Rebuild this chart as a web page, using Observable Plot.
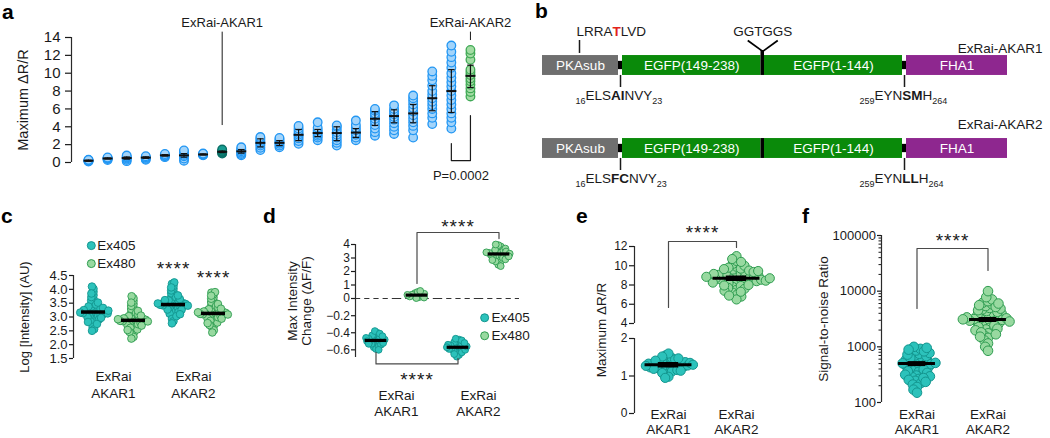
<!DOCTYPE html>
<html><head><meta charset="utf-8">
<script src="https://cdn.jsdelivr.net/npm/d3@7"></script>
<script src="https://cdn.jsdelivr.net/npm/@observablehq/plot@0.6"></script>
<style>
html,body{margin:0;padding:0;background:#fff}
#fig{position:relative;width:1050px;height:438px;overflow:hidden;background:#fff;font-family:'Liberation Sans',Arial,Helvetica,sans-serif}
#fig svg{position:absolute;left:0;top:0}
.plab{position:absolute;font-weight:bold;font-size:21px;line-height:21px;color:#000}
</style></head>
<body><div id="fig"></div>
<script>
// ================= DATA =================
// ---- panel a: variant screen (Maximum ΔR/R), 21 variants ----
const aColumns = [1,2,3,4,5,6,7,8,9,10,11,12,13,14,15,16,17,18,19,20,21];
const aKinds = ["variant","variant","variant","variant","variant","variant","variant","ExRai-AKAR1",
  "variant","variant","variant","variant","variant","variant","variant","variant","variant","variant","variant","variant","ExRai-AKAR2"];
const aValues = [
  [0.12,0.18,0.22,0.26,0.3],
  [0.28,0.38,0.45,0.5,0.56],
  [0.15,0.3,0.45,0.55,0.65,0.78],
  [0.3,0.42,0.52,0.6,0.7],
  [0.6,0.7,0.78,0.85,0.95],
  [0.2,0.45,0.7,0.85,1.0,1.2,1.35],
  [0.8,0.85,0.9,0.95,1.0],
  [1.0,1.1,1.2,1.3,1.45],
  [0.8,0.95,1.1,1.25,1.4,1.55,1.7],
  [1.4,1.65,1.9,2.1,2.3,2.5,2.7,2.85],
  [1.7,1.9,2.1,2.25,2.4,2.6,2.75],
  [2.1,2.4,2.7,2.9,3.1,3.3,3.55,3.8,4.1],
  [2.5,2.8,3.0,3.2,3.4,3.6,3.9,4.5],
  [1.9,2.2,2.5,2.8,3.1,3.4,3.7,4.0,4.15],
  [2.5,2.8,3.1,3.3,3.6,3.9,4.2,4.7],
  [3.0,3.4,3.8,4.2,4.6,4.9,5.2,5.5,5.8,6.0],
  [3.2,3.6,4.0,4.4,4.8,5.1,5.4,5.7,6.0,6.4],
  [2.8,3.6,4.1,4.5,4.9,5.3,5.7,6.1,6.5,6.9,7.2,7.5],
  [4.3,5.0,5.5,6.0,6.4,6.8,7.2,7.6,8.0,8.6,9.2,9.7,10.2],
  [3.8,4.5,5.0,5.5,6.0,6.5,7.0,7.5,8.0,8.5,9.0,9.5,10.0,10.6,11.2,11.8,12.4,13.1],
  [7.4,7.9,8.3,8.7,9.1,9.4,9.8,10.1,10.4,11.5,12.2,12.6]
];
const aMean = [0.2,0.45,0.5,0.55,0.8,0.8,0.9,1.2,1.25,2.2,2.2,3.1,3.3,3.3,3.35,4.9,5.2,5.5,7.2,8.0,9.7];
const aLow  = [0.14,0.39,0.38,0.47,0.72,0.6,0.84,1.12,1.05,1.75,1.9,2.45,2.9,2.45,2.8,4.15,4.45,4.45,5.8,5.6,8.4];
const aHigh = [0.26,0.51,0.62,0.63,0.88,1.0,0.96,1.28,1.45,2.65,2.45,3.7,3.7,4.0,3.8,5.7,5.9,6.5,8.6,10.4,10.9];
const aTicks = [0,2,4,6,8,10,12,14];
const aPValue = "P=0.0002";

// ---- panel b: construct schematic ----
const bConstructs = ["ExRai-AKAR1","ExRai-AKAR2"];
const bDomains = ["PKAsub","EGFP(149-238)","EGFP(1-144)","FHA1"];
const bDomainStart = [22,102,244,386];
const bDomainEnd = [98,240.5,382,487];
const bDomainKind = ["sub","gfp","gfp","fha"];
const bLinkerStart = [98,382];
const bLinkerEnd = [102,386];
const bSplit = [240.5,244];
const bSubstrate = "LRRA^T^LVD";
const bInsert = "GGTGGS";
const bSites = [["_16_ELS*AI*NVY_23_","_259_EYN*SM*H_264_"],["_16_ELS*FC*NVY_23_","_259_EYN*LL*H_264_"]];

// ---- panel c: Log intensity ----
const cGroups = ["AKAR1 Ex405","AKAR1 Ex480","AKAR2 Ex405","AKAR2 Ex480"];
const cChannels = ["Ex405","Ex480","Ex405","Ex480"];
const cValues = [
  [3.18,3.05,3.31,2.96,3.42,3.12,3.24,2.88,3.55,3.09,3.28,2.79,3.66,3.15,3.21,3.01,3.37,2.71,3.79,3.19,3.11,2.93,3.48,3.26,2.84,3.91,3.03,3.34,2.64,3.17,3.6,2.99,3.22,4.02,2.56,3.14,3.45,3.07,3.29,2.91,3.72,3.2,2.75,3.38,3.1,3.52,2.5,3.25,4.1,2.97,3.16,3.33,2.82,3.85,3.13,3.23],
  [2.88,2.76,3.0,2.67,3.12,2.83,2.94,2.58,3.24,2.8,2.98,2.5,3.35,2.86,2.91,2.72,3.06,2.43,3.47,2.89,2.81,2.63,3.18,2.96,2.55,3.58,2.74,3.03,2.36,2.87,3.29,2.7,2.93,3.68,2.28,2.85,3.15,2.78,2.99,2.61,3.4,2.9,2.46,3.09,2.82,3.22,2.22,2.95,3.75,2.69,2.86,3.05,2.53,3.52,2.84,2.92],
  [3.45,3.33,3.57,3.24,3.68,3.4,3.51,3.15,3.8,3.37,3.55,3.07,3.91,3.43,3.48,3.29,3.63,3.0,4.02,3.46,3.38,3.2,3.74,3.53,3.12,4.12,3.31,3.6,2.93,3.44,3.86,3.27,3.5,4.2,2.85,3.42,3.71,3.35,3.56,3.18,3.96,3.47,3.03,3.65,3.39,3.78,2.77,3.52,4.25,3.26,3.44,3.61,3.1,4.07,3.41,3.49],
  [3.13,3.01,3.25,2.92,3.37,3.08,3.19,2.83,3.49,3.05,3.23,2.75,3.6,3.11,3.16,2.97,3.31,2.68,3.71,3.14,3.06,2.88,3.43,3.21,2.8,3.82,2.99,3.28,2.6,3.12,3.54,2.95,3.18,3.88,2.52,3.1,3.4,3.03,3.24,2.86,3.66,3.15,2.71,3.34,3.07,3.47,2.44,3.2,3.9,2.94,3.11,3.3,2.78,3.77,3.09,3.17]
];
const cMedians = [3.18,2.88,3.45,3.13];
const cSignificant = [false,false,true,true];
const cTicks = [1.5,2.0,2.5,3.0,3.5,4.0,4.5];
const cCategories = ["ExRai\nAKAR1","ExRai\nAKAR2"];
const legendLabels = ["Ex405","Ex480"];

// ---- panel d: max intensity change ----
const dGroups = ["AKAR1 Ex405","AKAR1 Ex480","AKAR2 Ex405","AKAR2 Ex480"];
const dChannels = ["Ex405","Ex480","Ex405","Ex480"];
const dValues = [
  [-0.49,-0.46,-0.52,-0.44,-0.55,-0.48,-0.5,-0.42,-0.57,-0.47,-0.51,-0.4,-0.59,-0.49,-0.45,-0.53,-0.43,-0.56,-0.38,-0.5,-0.47,-0.54,-0.41,-0.6,-0.48,-0.52,-0.46,-0.5,-0.44,-0.53],
  [0.25,0.18,0.32,0.1,0.4,0.22,0.28,0.03,0.48,0.15,0.35,0.07,0.56,0.27],
  [-0.57,-0.54,-0.6,-0.52,-0.62,-0.56,-0.58,-0.5,-0.64,-0.55,-0.59,-0.48,-0.66,-0.57,-0.53,-0.61,-0.51,-0.63,-0.47,-0.58,-0.55,-0.6,-0.49,-0.68,-0.56,-0.59,-0.54,-0.57,-0.65,-0.52],
  [3.3,3.1,3.5,2.95,3.65,3.2,3.4,2.8,3.75,3.15,3.45,2.65,3.85,3.25,3.35,3.0,3.55,2.5,3.95,3.28,3.05,3.6,2.75,3.7,3.22,3.38,2.9,3.48,2.4,3.32,4.0,3.12,3.42,2.85]
];
const dMedians = [-0.49,0.25,-0.57,3.3];
const dTicks = [-0.6,-0.4,-0.2,0,1,2,3,4];
const dCategories = ["ExRai\nAKAR1","ExRai\nAKAR2"];

// ---- panel e: maximum ΔR/R (broken axis 0–2 | 4–12) ----
const eGroups = ["ExRai\nAKAR1","ExRai\nAKAR2"];
const eChannels = ["Ex405","Ex480"];
const eValues = [
  [1.3,1.25,1.35,1.2,1.4,1.28,1.32,1.15,1.45,1.22,1.38,1.1,1.5,1.27,1.33,1.18,1.42,1.05,1.55,1.29,1.24,1.36,1.12,1.48,1.3,1.26,1.34,0.98,1.6,1.21,1.39,1.16,1.44,1.31,1.23,1.37,1.08,1.52,1.28,1.33,0.95,1.41,1.19,1.35,1.27,1.47,1.14,1.3],
  [8.7,8.4,9.0,8.1,9.3,8.6,8.8,7.8,9.6,8.3,9.1,7.5,9.9,8.5,8.9,7.9,9.4,7.2,10.2,8.7,8.2,9.2,7.6,9.7,8.6,8.8,7.0,10.0,8.4,9.05,6.8,10.5,8.65,8.95,7.7,9.5,8.0,9.8,6.5,11.0,8.75,8.55,7.4,9.35,8.25,10.7,7.3,9.15,8.45,10.4,6.9,9.65,8.85,7.95,9.45,8.7]
];
const eMedians = [1.3,8.7];
const eTicks = [0,1,2,4,6,8,10,12];
const eBreak = [2,4];

// ---- panel f: signal-to-noise ----
const fGroups = ["ExRai\nAKAR1","ExRai\nAKAR2"];
const fChannels = ["Ex405","Ex480"];
const fValues = [
  [500,470,530,440,570,410,610,380,650,355,700,330,750,305,800,285,860,265,920,245,1000,225,480,520,455,550,425,590,395,630,365,680,340,725,315,775,295,830,275,890,255,960,235,210,190,170,150,505,490,515],
  [3100,2900,3300,2700,3550,2500,3800,2350,4100,2200,4400,2050,4700,1900,5000,1750,5400,1600,5800,1450,6200,1300,6600,1150,7100,1000,7800,850,10000,3000,3200,2800,3420,2600,3680,2420,3950,2270,4250,2120,4550,1980,4850,1820,5200,1680,5600,1520,6000,3050,3150,2950,3250,2850,3380,3120]
];
const fMedians = [500,3100];
const fTicks = [100,1000,10000,100000];
const fMinorTicks = [2,3,4,5,6,7,8,9].flatMap(k => [100,1000,10000].map(b => k*b));
const STARS = "****";

// ================= STYLE =================
const FONT = "'Liberation Sans', Arial, Helvetica, sans-serif";
const INK = "#1a1a1a", AXIS = "#2a2a2a", BRK = "#4a4a4a";
const FILL = {Ex405: "#2cc2bb", Ex480: "#98d9a0"};
const STROKE = {Ex405: "#13958e", Ex480: "#2e9c50"};
const aFill = {"variant": "#a3d4fa", "ExRai-AKAR1": "#179c91", "ExRai-AKAR2": "#a3dca3"};
const aStroke = {"variant": "#2196f3", "ExRai-AKAR1": "#0b6f66", "ExRai-AKAR2": "#3fa955"};
const bFill = {sub: "#6f6f6f", gfp: "#0a8a0a", fha: "#8e278f"};
const baseStyle = {fontFamily: FONT, fontSize: "13px", color: INK, background: "transparent", overflow: "visible"};
const W = 1050, H = 438;
const num = d3.format("");

const fig = document.getElementById("fig");
function richText(svg) {
  const re = /(_[^_]+_|\*[^*]+\*|\^[^^]+\^)/;
  d3.select(svg).selectAll("text").each(function () {
    const t = this.textContent;
    if (t === STARS) { this.style.letterSpacing = "1px"; return; }
    if (this.childElementCount || !re.test(t)) return;
    const parts = t.split(re).filter(Boolean);
    const el = d3.select(this); el.text(null);
    let low = false;
    for (const p of parts) {
      const ts = el.append("tspan");
      if (p[0] === "_") {
        ts.text(p.slice(1, -1)).attr("font-size", "9px");
        if (!low) ts.attr("dy", 4);
        low = true;
      } else {
        if (low) ts.attr("dy", -4);
        low = false;
        if (p[0] === "*") ts.text(p.slice(1, -1)).attr("font-weight", "bold");
        else if (p[0] === "^") ts.text(p.slice(1, -1)).attr("fill", "#e3231b").attr("font-weight", "bold");
        else ts.text(p);
      }
    }
  });
}
function mount(svg) {
  svg.style.position = "absolute"; svg.style.left = "0px"; svg.style.top = "0px";
  fig.appendChild(svg); richText(svg);
}
function letter(ch, left, baseline) {
  const d = document.createElement("div");
  d.className = "plab"; d.textContent = ch;
  d.style.left = left + "px"; d.style.top = (baseline - 17.5) + "px";
  fig.appendChild(d);
}
function swarmRows(groups, channels, values) {
  return groups.flatMap((g, i) => values[i].map(v => ({g, ch: channels[i], v})));
}
function medianRows(groups, medians) {
  return groups.map((g, i) => ({g, m: medians[i]}));
}
// beeswarm: layoutR sets how tightly the cells pack (they overlap, as in the figure), r is the drawn radius
function swarm(rows, layoutR, r, sw = 0.9) {
  return Plot.dot(rows, Plot.dodgeX({anchor: "middle", padding: 0, r: layoutR},
    {fx: "g", y: "v", r, fill: d => FILL[d.ch], stroke: d => STROKE[d.ch], strokeWidth: sw}));
}

// ================= PANEL a =================
const aXDomain = [0.11, 22.05], aYDomain = [0, 14];
const aRows = aColumns.flatMap((c, i) => aValues[i].map(v => ({col: c, v, kind: aKinds[i]})));
const aStats = aColumns.map((c, i) => ({col: c, mean: aMean[i], lo: aLow[i], hi: aHigh[i]}));
const aCallouts = aColumns.filter((c, i) => aKinds[i] !== "variant").map(c => ({col: c, label: aKinds[c - 1]}));
const aCalloutEnd = {"ExRai-AKAR1": 4.14, "ExRai-AKAR2": 13.66};
const aBracket = [[20, 2.13], [20, 0.22], [21, 0.22], [21, 5.26]];
mount(Plot.plot({
  width: W, height: H, marginLeft: 71, marginRight: 560, marginTop: 37, marginBottom: 276,
  style: baseStyle,
  x: {domain: aXDomain, axis: null},
  y: {domain: aYDomain, axis: null},
  color: {type: "identity"},
  marks: [
    Plot.ruleX([aXDomain[0]], {y1: aYDomain[0], y2: aYDomain[1], stroke: AXIS, strokeWidth: 1.2}),
    Plot.axisY({ticks: aTicks, tickSize: 6, tickPadding: 5, fontSize: 15, label: null, strokeWidth: 1.2}),
    Plot.axisY({ticks: [], label: "Maximum ΔR/R", labelAnchor: "center", labelArrow: "none", labelOffset: 54, fontSize: 14.5}),
    Plot.dot(aRows, {x: "col", y: "v", r: 4.3, fill: d => aFill[d.kind], stroke: d => aStroke[d.kind], strokeWidth: 1.3}),
    Plot.ruleX(aStats, {x: "col", y1: "lo", y2: "hi", stroke: "#111", strokeWidth: 1.2}),
    Plot.link(aStats, {x1: d => d.col - 0.17, x2: d => d.col + 0.17, y1: "lo", y2: "lo", stroke: "#111", strokeWidth: 1.2}),
    Plot.link(aStats, {x1: d => d.col - 0.17, x2: d => d.col + 0.17, y1: "hi", y2: "hi", stroke: "#111", strokeWidth: 1.2}),
    Plot.link(aStats, {x1: d => d.col - 0.26, x2: d => d.col + 0.26, y1: "mean", y2: "mean", stroke: "#111", strokeWidth: 2}),
    Plot.ruleX(aCallouts, {x: "col", y1: 14.6, y2: d => aCalloutEnd[d.label], stroke: INK, strokeWidth: 1}),
    Plot.text(aCallouts, {x: "col", y: 15.68, text: "label", fontSize: 13, fill: INK}),
    Plot.line(aBracket, {x: d => d[0], y: d => d[1], stroke: INK, strokeWidth: 1.2}),
    Plot.text([aPValue], {x: 20.5, y: -1.46, text: d => d, fontSize: 13, fill: INK})
  ]
}));

// ================= PANEL b =================
const HB = 0.12;
const bRows = bConstructs.map((name, i) => ({name, row: i + 1}));
const bBlocks = bRows.flatMap(r => bDomains.map((d, j) => ({row: r.row, name: d, x1: bDomainStart[j], x2: bDomainEnd[j], kind: bDomainKind[j]})));
const bLinks = bRows.flatMap(r => bLinkerStart.map((s, j) => ({row: r.row, x1: s, x2: bLinkerEnd[j]})));
const bSiteRows = bRows.flatMap((r, i) => bSites[i].map((t, j) => ({row: r.row, x: (bLinkerStart[j] + bLinkerEnd[j]) / 2, text: t})));
const bSplitMid = (bSplit[0] + bSplit[1]) / 2;
const bSubX = 59;
const bV = [[bSplitMid - 15, 0.699, bSplitMid, 0.83], [bSplitMid + 15, 0.699, bSplitMid, 0.83]];
mount(Plot.plot({
  width: W, height: H, marginLeft: 520, marginRight: 0, marginTop: 0, marginBottom: 0,
  style: {...baseStyle, fontSize: "13.5px"},
  x: {domain: [0, 530], range: [520, 1050], axis: null},
  y: {domain: [1, 2], range: [65, 148], axis: null},
  color: {type: "identity"},
  marks: [
    Plot.rect(bBlocks, {x1: "x1", x2: "x2", y1: d => d.row - HB, y2: d => d.row + HB, fill: d => bFill[d.kind]}),
    Plot.rect(bLinks, {x1: "x1", x2: "x2", y1: d => d.row - 0.05, y2: d => d.row + 0.05, fill: "#000"}),
    Plot.rect(bRows, {x1: bSplit[0], x2: bSplit[1], y1: d => d.row === 1 ? 0.82 : d.row - HB, y2: d => d.row + HB, fill: "#000"}),
    Plot.text(bBlocks, {x: d => (d.x1 + d.x2) / 2, y: "row", text: "name", fill: "white", fontSize: 13.5}),
    Plot.text(bRows, {x: 522, y: d => d.row - (d.row === 1 ? 0.2 : 0.29), text: "name", textAnchor: "end", fontSize: 13.5, fill: INK}),
    Plot.text([bSubstrate], {x: 56, y: 0.59, text: d => d, textAnchor: "start", fontSize: 13.5, fill: INK}),
    Plot.ruleX([bSubX], {y1: 0.699, y2: 0.855, stroke: INK, strokeWidth: 1.5}),
    Plot.text([bInsert], {x: bSplitMid, y: 0.59, text: d => d, fontSize: 13.5, fill: INK}),
    Plot.link(bV, {x1: d => d[0], y1: d => d[1], x2: d => d[2], y2: d => d[3], stroke: "#000", strokeWidth: 1.8}),
    Plot.ruleX(bSiteRows, {x: "x", y1: d => d.row + HB, y2: d => d.row + 0.265, stroke: INK, strokeWidth: 1.5}),
    Plot.text(bSiteRows, {x: "x", y: d => d.row + 0.36, text: "text", textAnchor: "start", dx: -45, fontSize: 13.5, fill: INK})
  ]
}));

// ================= PANEL c =================
const cStep = 40.3;
const cRows = swarmRows(cGroups, cChannels, cValues);
mount(Plot.plot({
  width: W, height: H, marginLeft: 72, marginRight: W - 72 - 4 * cStep, marginTop: 275, marginBottom: 80,
  style: baseStyle,
  fx: {domain: cGroups, padding: 0, axis: null},
  x: {domain: [-1, 1], axis: null},
  y: {domain: [1.5, 4.5], axis: null},
  color: {type: "identity"},
  marks: [
    Plot.ruleX([cGroups[0]], {fx: d => d, x: -1, y1: 1.5, y2: 4.5, stroke: AXIS, strokeWidth: 1.2}),
    Plot.axisY({ticks: cTicks, tickFormat: ".1f", tickSize: 4, tickPadding: 2, fontSize: 13, label: null, strokeWidth: 1.2}),
    Plot.axisY({ticks: [], label: "Log [Intensity] (AU)", labelAnchor: "center", labelArrow: "none", labelOffset: 54, fontSize: 13}),
    swarm(cRows, 1.35, 3.8),
    Plot.ruleY(medianRows(cGroups, cMedians), {fx: "g", y: "m", x1: -0.6, x2: 0.6, stroke: "#000", strokeWidth: 3.5}),
    Plot.text(cGroups.filter((g, i) => cSignificant[i]), {fx: d => d, y: d => d3.max(cValues[cGroups.indexOf(d)]) + 0.5, text: () => STARS, fontSize: 19, fill: INK}),
    Plot.dot(legendLabels, {fx: () => cGroups[0], x: -0.11, y: (d, i) => [5.58, 4.93][i], r: 4, fill: d => FILL[d], stroke: d => STROKE[d], strokeWidth: 1}),
    Plot.text(legendLabels, {fx: () => cGroups[0], x: 0.19, y: (d, i) => [5.58, 4.93][i], text: d => d, textAnchor: "start", fontSize: 13.5, fill: INK}),
    Plot.text(cCategories, {fx: (d, i) => cGroups[2 * i], x: 1, y: 0.578, text: d => d, lineHeight: 1.26, fontSize: 13.5, fill: INK})
  ]
}));

// ================= PANEL d (broken axis: lower −0.69…0, upper 0…4) =================
const dStep = 41.6;
const dRows = swarmRows(dGroups, dChannels, dValues);
const dMed = medianRows(dGroups, dMedians);
const dFacet = {domain: dGroups, padding: 0, axis: null};
const dMargins = {marginLeft: 354, marginRight: W - 354 - 4 * dStep};
const dBracketTop = [[0, 1.11], [0, 4.89], [4, 4.89], [4, 4.44]];
const dBracketBottom = [[0, -0.63], [0, -0.765], [4, -0.765], [4, -0.70]];
// upper part
mount(Plot.plot({
  width: W, height: H, ...dMargins, marginTop: 244, marginBottom: H - 298,
  style: baseStyle, fx: dFacet,
  x: {domain: [-1, 1], axis: null},
  y: {domain: [0, 4], axis: null},
  color: {type: "identity"},
  marks: [
    Plot.ruleY(dGroups, {fx: d => d, y: 0, stroke: "#333", strokeWidth: 1, strokeDasharray: "5.2,4"}),
    Plot.ruleX([dGroups[0]], {fx: d => d, x: -1, y1: 0, y2: 4, stroke: AXIS, strokeWidth: 1.2}),
    Plot.axisY({ticks: dTicks.filter(t => t >= 0), tickFormat: num, tickSize: 4, tickPadding: 1.5, fontSize: 12, label: null, strokeWidth: 1.2}),
    swarm(dRows.filter(d => d.v >= 0), 1.4, 3.4),
    Plot.ruleY(dMed.filter(d => d.m >= 0), {fx: "g", y: "m", x1: -0.53, x2: 0.53, stroke: "#000", strokeWidth: 3.2}),
    Plot.line(dBracketTop, {fx: () => dGroups[1], x: d => d[0], y: d => d[1], stroke: BRK, strokeWidth: 1.2}),
    Plot.text([STARS], {fx: () => dGroups[2], x: 0, y: 5.33, text: d => d, fontSize: 19, fill: INK})
  ]
}));
// lower part (its frame spans the whole panel so the axis label is centred)
mount(Plot.plot({
  width: W, height: H, ...dMargins, marginTop: 244, marginBottom: 81,
  style: baseStyle, fx: dFacet,
  x: {domain: [-1, 1], axis: null},
  y: {domain: [-0.69, 0.635], axis: null},
  color: {type: "identity"},
  marks: [
    Plot.ruleX([dGroups[0]], {fx: d => d, x: -1, y1: -0.69, y2: 0, stroke: AXIS, strokeWidth: 1.2}),
    Plot.axisY({ticks: dTicks.filter(t => t < 0), tickFormat: num, tickSize: 4, tickPadding: 1.5, fontSize: 12, label: null, strokeWidth: 1.2}),
    Plot.axisY({ticks: [], label: "Max Intensity\nChange (ΔF/F)", labelAnchor: "center", labelArrow: "none", labelOffset: 68, fontSize: 13.5}),
    swarm(dRows.filter(d => d.v < 0), 1.4, 3.4),
    Plot.ruleY(dMed.filter(d => d.m < 0), {fx: "g", y: "m", x1: -0.53, x2: 0.53, stroke: "#000", strokeWidth: 3.2}),
    Plot.line(dBracketBottom, {fx: () => dGroups[0], x: d => d[0], y: d => d[1], stroke: BRK, strokeWidth: 1.2}),
    Plot.text([STARS], {fx: () => dGroups[1], x: 0, y: -0.953, text: d => d, fontSize: 19, fill: INK}),
    Plot.dot(legendLabels, {fx: () => dGroups[3], x: -0.7, y: (d, i) => [-0.224, -0.435][i], r: 4, fill: d => FILL[d], stroke: d => STROKE[d], strokeWidth: 1}),
    Plot.text(legendLabels, {fx: () => dGroups[3], x: -0.37, y: (d, i) => [-0.224, -0.435][i], text: d => d, textAnchor: "start", fontSize: 13.5, fill: INK}),
    Plot.text(dCategories, {fx: (d, i) => dGroups[2 * i], x: 1, y: -1.224, text: d => d, lineHeight: 1.185, fontSize: 13.5, fill: INK})
  ]
}));

// ================= PANEL e (broken axis: lower 0…2, upper 4…12) =================
const eStep = 68.6;
const eRows = swarmRows(eGroups, eChannels, eValues);
const eMed = medianRows(eGroups, eMedians);
const eFacet = {domain: eGroups, padding: 0, axis: null};
const eMargins = {marginLeft: 633, marginRight: W - 633 - 2 * eStep};
const eBracket = [[0, 5.66], [0, 12.52], [2, 12.52], [2, 11.9]];
const eMedMarks = (rows) => [
  Plot.ruleY(rows, {fx: "g", y: "m", x1: -0.69, x2: 0.69, stroke: "#000", strokeWidth: 3}),
  Plot.ruleY(rows, {fx: "g", y: "m", x1: -0.3, x2: 0.3, stroke: "#000", strokeWidth: 5.5})
];
// upper
mount(Plot.plot({
  width: W, height: H, ...eMargins, marginTop: 246, marginBottom: H - 323,
  style: baseStyle, fx: eFacet,
  x: {domain: [-1, 1], axis: null},
  y: {domain: [eBreak[1], 12], axis: null},
  color: {type: "identity"},
  marks: [
    Plot.ruleX([eGroups[0]], {fx: d => d, x: -1, y1: eBreak[1], y2: 12, stroke: AXIS, strokeWidth: 1.2}),
    Plot.axisY({ticks: eTicks.filter(t => t >= eBreak[1]), tickFormat: num, tickSize: 5, tickPadding: 2, fontSize: 12, label: null, strokeWidth: 1.2}),
    swarm(eRows.filter(d => d.v >= eBreak[1]), 2.35, 4.6, 1),
    ...eMedMarks(eMed.filter(d => d.m >= eBreak[1])),
    Plot.line(eBracket, {fx: () => eGroups[0], x: d => d[0], y: d => d[1], stroke: BRK, strokeWidth: 1.2}),
    Plot.text([STARS], {fx: () => eGroups[0], x: 1, y: 13.45, text: d => d, fontSize: 19, fill: INK})
  ]
}));
// lower (frame spans the whole panel so the axis label is centred)
mount(Plot.plot({
  width: W, height: H, ...eMargins, marginTop: 246, marginBottom: 25,
  style: baseStyle, fx: eFacet,
  x: {domain: [-1, 1], axis: null},
  y: {domain: [0, 4.453], axis: null},
  color: {type: "identity"},
  marks: [
    Plot.ruleX([eGroups[0]], {fx: d => d, x: -1, y1: 0, y2: eBreak[0], stroke: AXIS, strokeWidth: 1.2}),
    Plot.axisY({ticks: eTicks.filter(t => t <= eBreak[0]), tickFormat: num, tickSize: 5, tickPadding: 2, fontSize: 12, label: null, strokeWidth: 1.2}),
    Plot.axisY({ticks: [], label: "Maximum ΔR/R", labelAnchor: "center", labelArrow: "none", labelOffset: 38, fontSize: 13.5}),
    swarm(eRows.filter(d => d.v <= eBreak[0]), 1.75, 4.6, 1),
    ...eMedMarks(eMed.filter(d => d.m <= eBreak[0])),
    Plot.text(eGroups, {fx: d => d, y: -0.227, text: d => d, lineHeight: 1.11, fontSize: 13.5, fill: INK})
  ]
}));

// ================= PANEL f =================
const fStep = 71;
const fRows = swarmRows(fGroups, fChannels, fValues);
const fBracket = [[0, 4890], [0, 58400], [2, 58400], [2, 23500]];
mount(Plot.plot({
  width: W, height: H, marginLeft: 881, marginRight: W - 881 - 2 * fStep, marginTop: 235, marginBottom: 36,
  style: baseStyle,
  fx: {domain: fGroups, padding: 0, axis: null},
  x: {domain: [-1, 1], axis: null},
  y: {type: "log", domain: [100, 100000], axis: null},
  color: {type: "identity"},
  marks: [
    Plot.ruleX([fGroups[0]], {fx: d => d, x: -1, y1: 100, y2: 100000, stroke: AXIS, strokeWidth: 1.2}),
    Plot.axisY({ticks: fMinorTicks, tickSize: 2.5, tickFormat: () => "", label: null, strokeWidth: 1}),
    Plot.axisY({ticks: fTicks, tickSize: 4, tickPadding: 1.5, tickFormat: "d", fontSize: 13, label: null, strokeWidth: 1.2}),
    Plot.axisY({ticks: [], label: "Signal-to-noise Ratio", labelAnchor: "center", labelArrow: "none", labelOffset: 63, fontSize: 13.5}),
    swarm(fRows, 2.2, 4.8, 1),
    Plot.ruleY(medianRows(fGroups, fMedians), {fx: "g", y: "m", x1: -0.52, x2: 0.52, stroke: "#000", strokeWidth: 3}),
    Plot.ruleY(medianRows(fGroups, fMedians), {fx: "g", y: "m", x1: -0.25, x2: 0.25, stroke: "#000", strokeWidth: 5}),
    Plot.line(fBracket, {fx: () => fGroups[0], x: d => d[0], y: d => d[1], stroke: BRK, strokeWidth: 1.2}),
    Plot.text([STARS], {fx: () => fGroups[0], x: 1, y: 81300, text: d => d, fontSize: 19, fill: INK}),
    Plot.text(fGroups, {fx: d => d, y: 44.7, text: d => d, lineHeight: 1.11, fontSize: 13.5, fill: INK})
  ]
}));

// ================= panel letters =================
letter("a", 2, 18); letter("b", 535, 17);
letter("c", 1, 222); letter("d", 263, 222); letter("e", 576, 222); letter("f", 802, 222);
</script>
</body></html>
